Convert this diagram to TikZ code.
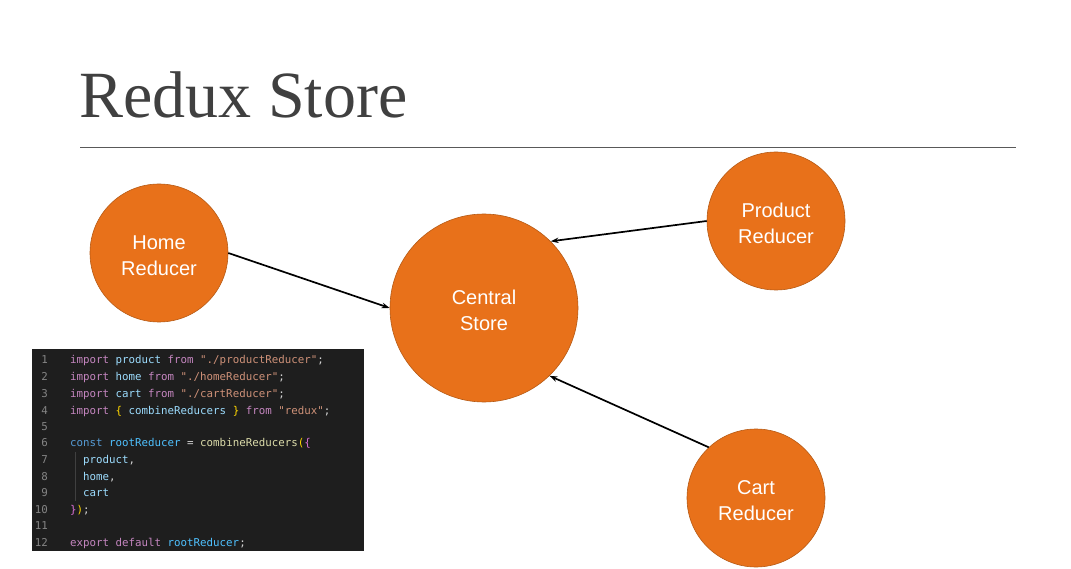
\documentclass[tikz,border=0pt]{standalone}
\usepackage{fontspec}
\setmainfont{Liberation Serif}
\setsansfont{Liberation Sans}
\setmonofont{DejaVu Sans Mono}
\usetikzlibrary{arrows.meta}
\definecolor{orangefill}{HTML}{E8711A}
\definecolor{orangeedge}{HTML}{B65A14}
\definecolor{titlegray}{HTML}{404040}
\definecolor{rulegray}{HTML}{595959}
\definecolor{codebg}{HTML}{1E1E1E}
\definecolor{lnum}{HTML}{858585}
\definecolor{ckwc}{HTML}{C586C0}
\definecolor{cidc}{HTML}{9CDCFE}
\definecolor{cconstc}{HTML}{4FC1FF}
\definecolor{cstrc}{HTML}{CE9178}
\definecolor{cblc}{HTML}{569CD6}
\definecolor{cfnc}{HTML}{DCDCAA}
\definecolor{cpuc}{HTML}{D4D4D4}
\definecolor{cybc}{HTML}{FFD700}
\definecolor{cpbc}{HTML}{DA70D6}
\definecolor{guide}{HTML}{404040}
\newcommand{\ckw}[1]{\textcolor{ckwc}{#1}}
\newcommand{\cid}[1]{\textcolor{cidc}{#1}}
\newcommand{\ccn}[1]{\textcolor{cconstc}{#1}}
\newcommand{\cstr}[1]{\textcolor{cstrc}{#1}}
\newcommand{\cbl}[1]{\textcolor{cblc}{#1}}
\newcommand{\cfn}[1]{\textcolor{cfnc}{#1}}
\newcommand{\cpu}[1]{\textcolor{cpuc}{#1}}
\newcommand{\cyb}[1]{\textcolor{cybc}{#1}}
\newcommand{\cpb}[1]{\textcolor{cpbc}{#1}}
\newcommand{\toppad}{\rule{0pt}{20pt}}
\tikzset{
  reducer/.style={circle, fill=orangefill, draw=orangeedge, line width=0.6pt, inner sep=0pt,
    text=white, align=center, font=\sffamily\fontsize{20}{26}\selectfont},
  arr/.style={draw=black, line width=1.7pt, -{Stealth[length=8pt,width=5.5pt]}},
  codeline/.style={anchor=base west, inner sep=0pt, font=\ttfamily\fontsize{10.8}{13}\selectfont},
  lineno/.style={anchor=base east, inner sep=0pt, text=lnum, font=\ttfamily\fontsize{10.8}{13}\selectfont},
}
\begin{document}
\begin{tikzpicture}[x=1pt,y=-1pt]
\useasboundingbox[fill=white] (0,0) rectangle (1071,569);
% title
\node[anchor=base west, inner sep=0pt, text=titlegray, font=\fontsize{66}{66}\selectfont] (title) at (79,118) {Redux Store};
\draw[rulegray, line width=0.8pt] (80,147) -- (1016,147);
% circles
\node[reducer, minimum size=138pt] (home) at (159,253) {\toppad Home\\Reducer};
\node[reducer, minimum size=188pt] (central) at (484,308) {\toppad Central\\Store};
\node[reducer, minimum size=138pt] (product) at (776,221) {\toppad Product\\Reducer};
\node[reducer, minimum size=138pt] (cart) at (756,498) {\toppad Cart\\Reducer};
% arrows
\draw[arr] (home.0) -- (central.180);
\draw[arr] (product.180) -- (central.45);
\draw[arr] (cart.133) -- (central.-46);
% code block
\fill[codebg] (32,349) rectangle (364,551);
\draw[guide, line width=0.8pt] (75,452) -- (75,501);
\foreach \n/\yy in {1/363,2/381,3/397,4/414,5/430,6/446,7/463,8/480,9/496,10/513,11/529,12/546}
  \node[lineno] (ln\n) at (48,\yy) {\n};
\node[codeline] (c1) at (70,363) {\ckw{import} \cid{product} \ckw{from} \cstr{"./productReducer"}\cpu{;}};
\node[codeline] (c2) at (70,381) {\ckw{import} \cid{home} \ckw{from} \cstr{"./homeReducer"}\cpu{;}};
\node[codeline] (c3) at (70,397) {\ckw{import} \cid{cart} \ckw{from} \cstr{"./cartReducer"}\cpu{;}};
\node[codeline] (c4) at (70,414) {\ckw{import} \cyb{\{} \cid{combineReducers} \cyb{\}} \ckw{from} \cstr{"redux"}\cpu{;}};
\node[codeline] (c6) at (70,446) {\cbl{const} \ccn{rootReducer} \cpu{=} \cfn{combineReducers}\cyb{(}\cpb{\{}};
\node[codeline] (c7) at (70,463) {\phantom{xx}\cid{product}\cpu{,}};
\node[codeline] (c8) at (70,480) {\phantom{xx}\cid{home}\cpu{,}};
\node[codeline] (c9) at (70,496) {\phantom{xx}\cid{cart}};
\node[codeline] (c10) at (70,513) {\cpb{\}}\cyb{)}\cpu{;}};
\node[codeline] (c12) at (70,546) {\ckw{export} \ckw{default} \ccn{rootReducer}\cpu{;}};
\end{tikzpicture}
\end{document}
